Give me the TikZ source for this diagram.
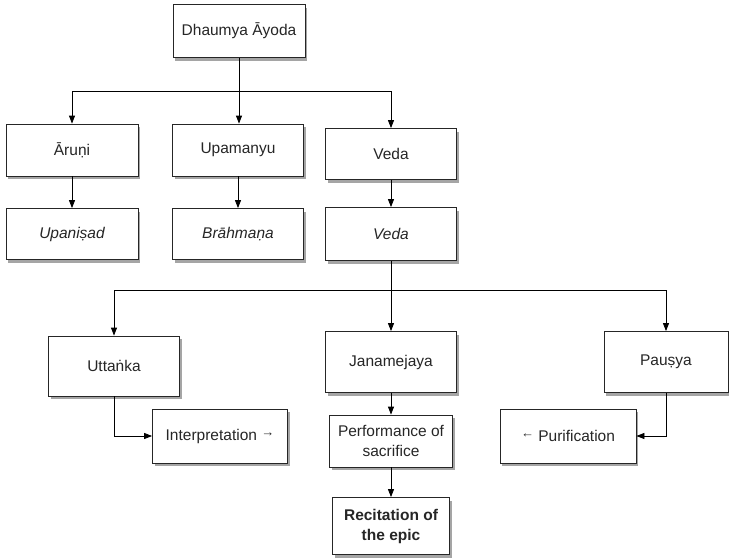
\documentclass[tikz,border=0pt]{standalone}
\usepackage{fontspec}
\setmainfont{Liberation Sans}
\usepackage{tikz}
\usetikzlibrary{arrows.meta,shadows}

\begin{document}
\begin{tikzpicture}[x=1pt,y=-1pt,
		box/.style={draw=black!85, line width=0.8pt, fill=white, align=center, inner sep=2pt,
			font=\fontsize{15.5}{20}\selectfont, text=black!85,
			drop shadow={shadow xshift=2pt, shadow yshift=-3pt, opacity=0.5, fill=black!70}},
		arr/.style={line width=0.8pt, -{Triangle[length=8pt,width=6pt]}}]
				\useasboundingbox[fill=white] (0,0) rectangle (729,560);
				% top row
				\node[box, minimum width=132pt, minimum height=53pt] (dhaumya) at (239,31) {Dhaumya Āyoda};
				\node[box, minimum width=132pt, minimum height=52pt] (aruni) at (72,150) {Āruṇi};
				\node[box, minimum width=131pt, minimum height=52pt] (upamanyu) at (238,150) {Upamanyu};
				\node[box, minimum width=131pt, minimum height=51pt] (vedaA) at (391,154) {Veda};
				\node[box, minimum width=132pt, minimum height=51pt] (upanisad) at (72,234) {\itshape Upaniṣad};
				\node[box, minimum width=131pt, minimum height=51pt] (brahmana) at (238,234) {\itshape Brāhmaṇa};
				\node[box, minimum width=131pt, minimum height=53pt] (vedaB) at (391,234) {\itshape Veda};
				% lower part
				\node[box, minimum width=131pt, minimum height=60pt] (uttanka) at (114,366) {Uttaṅka};
				\node[box, minimum width=131pt, minimum height=61pt] (janamejaya) at (391,362) {Janamejaya};
				\node[box, minimum width=124pt, minimum height=61pt] (pausya) at (666,362) {Pauṣya};
				\node[box, minimum width=135pt, minimum height=54pt] (interp) at (220,436) {Interpretation {\fontsize{13}{13}\selectfont\raisebox{4pt}{→}}};
				\node[box, minimum width=123pt, minimum height=52pt] (perform) at (391,441) {Performance of\\sacrifice};
				\node[box, minimum width=136pt, minimum height=54pt] (purif) at (568,436) {{\fontsize{13}{13}\selectfont\raisebox{4pt}{←}} Purification};
				\node[box, minimum width=117pt, minimum height=57pt, font=\fontsize{15.5}{20}\selectfont\bfseries] (recit) at (391,526) {Recitation of\\the epic};
				% connectors
				\coordinate (split1) at (239,91);
				\coordinate (split2) at (391,290);
				\draw[line width=0.8pt] (dhaumya.south) -- (split1);
				\draw[arr] (split1) -| (aruni.north);
				\draw[arr] (split1) -- (upamanyu.north -| split1);
				\draw[arr] (split1) -| (vedaA.north);
				\draw[arr] (aruni) -- (upanisad);
				\draw[arr] (upamanyu) -- (brahmana);
				\draw[arr] (vedaA) -- (vedaB);
				\draw[line width=0.8pt] (vedaB.south) -- (split2);
				\draw[arr] (split2) -| (uttanka.north);
				\draw[arr] (split2) -- (janamejaya.north);
				\draw[arr] (split2) -| (pausya.north);
				\draw[arr] (uttanka.south) |- (interp.west);
				\draw[arr] (janamejaya) -- (perform);
				\draw[arr] (pausya.south) |- (purif.east);
				\draw[arr] (perform) -- (recit);
		\end{tikzpicture}
\end{document}
